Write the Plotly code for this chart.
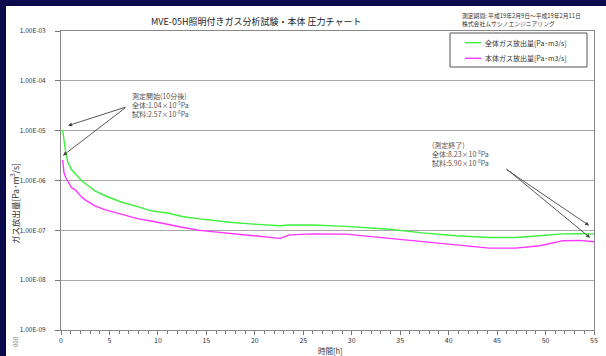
import plotly.graph_objects as go

# ---- data ----
time_h = [0.17, 0.31, 0.49, 0.72, 1.07, 1.5, 2.1, 2.5, 3.0, 3.5, 4.5, 6.2, 8.0, 9.3, 11.0,
          12.5, 14.3, 17.4, 19.5, 21.6, 22.6, 23.6, 26.0, 29.4, 33.9, 37.3, 40.8, 44.2,
          46.9, 49.4, 51.8, 53.5, 55.0]
total_gas = [1.04e-5, 6.6e-6, 3.6e-6, 2.3e-6, 1.66e-6, 1.35e-6, 1.0e-6, 8.7e-7, 7.4e-7, 6.2e-7,
             5.0e-7, 3.7e-7, 2.95e-7, 2.46e-7, 2.23e-7, 1.9e-7, 1.7e-7, 1.45e-7, 1.35e-7,
             1.29e-7, 1.24e-7, 1.28e-7, 1.28e-7, 1.2e-7, 1.05e-7, 8.9e-8, 7.8e-8, 7.2e-8,
             7.2e-8, 7.8e-8, 8.5e-8, 8.6e-8, 8.4e-8]
body_gas = [2.57e-6, 1.43e-6, 1.15e-6, 9.4e-7, 7.2e-7, 6.4e-7, 4.7e-7, 4.1e-7, 3.6e-7, 3.1e-7,
            2.6e-7, 2.1e-7, 1.7e-7, 1.54e-7, 1.3e-7, 1.15e-7, 1.0e-7, 8.8e-8, 8.1e-8,
            7.4e-8, 6.9e-8, 8.1e-8, 8.5e-8, 8.4e-8, 6.9e-8, 6.0e-8, 5.0e-8, 4.4e-8,
            4.4e-8, 4.9e-8, 6.2e-8, 6.3e-8, 5.9e-8]

series_names = ["全体ガス放出量[Pa･m3/s]", "本体ガス放出量[Pa･m3/s]"]
series_colors = ["#3cf23c", "#ff33ff"]
y_tick_vals = [1e-9, 1e-8, 1e-7, 1e-6, 1e-5, 1e-4, 1e-3]
y_tick_text = ["1.00E-09", "1.00E-08", "1.00E-07", "1.00E-06", "1.00E-05", "1.00E-04", "1.00E-03"]
x_tick_vals = [0, 5, 10, 15, 20, 25, 30, 35, 40, 45, 50, 55]

title_text = "MVE-05H照明付きガス分析試験・本体 圧力チャート"
period_text = "測定期間: 平成19年2月9日～平成19年2月11日<br>株式会社ムサシノエンジニアリング"
start_text = "測定開始(10分後)<br>全体:1.04×10<sup>-5</sup>Pa<br>試料:2.57×10<sup>-6</sup>Pa"
end_text = "(測定終了)<br>全体:8.23×10<sup>-8</sup>Pa<br>試料:5.90×10<sup>-8</sup>Pa"
y_title = "ガス放出量[Pa･m<sup>3</sup>/s]"
x_title = "時間[h]"

# ---- layout geometry ----
W, H = 606, 356
ML, MR, MT, MB = 61, 12, 31, 26
PW, PH = W - ML - MR, H - MT - MB


def px(x):
    return (x - ML) / PW


def py(y):
    return (H - MB - y) / PH


FONT = "Noto Sans CJK JP, Liberation Sans, sans-serif"
TXT = "#333333"
NAVY = "#0a0a4c"

fig = go.Figure()
for name, vals, col in zip(series_names, [total_gas, body_gas], series_colors):
    fig.add_trace(go.Scatter(x=time_h, y=vals, mode="lines", name=name,
                             line=dict(color=col, width=1.4)))

fig.update_layout(
    width=W, height=H,
    margin=dict(l=ML, r=MR, t=MT, b=MB, pad=0, autoexpand=False),
    paper_bgcolor="white", plot_bgcolor="white",
    font=dict(family=FONT, size=7, color=TXT),
    showlegend=False,
    xaxis=dict(range=[0, 55], tickvals=x_tick_vals, ticks="outside", ticklen=4,
               tickcolor="#777777", showline=True, linecolor="#888888", linewidth=1,
               mirror=True, showgrid=False, zeroline=False, automargin=False,
               tickfont=dict(size=7, color=TXT),
               minor=dict(dtick=1, ticks="outside", ticklen=3, tickcolor="#777777")),
    yaxis=dict(type="log", range=[-9, -3], tickvals=y_tick_vals, ticktext=y_tick_text,
               ticks="outside", ticklen=5, tickcolor="#777777", showline=True,
               linecolor="#888888", linewidth=1, mirror=True, showgrid=True,
               gridcolor="#a8a8a8", gridwidth=1, zeroline=False, automargin=False,
               tickfont=dict(size=6.5, color=TXT), ticklabelstandoff=8),
)

# navy border on top and left
fig.add_shape(type="rect", xref="paper", yref="paper", x0=px(0), x1=px(6), y0=py(H), y1=py(0),
              fillcolor=NAVY, line=dict(width=0), layer="above")
fig.add_shape(type="rect", xref="paper", yref="paper", x0=px(0), x1=px(W), y0=py(6), y1=py(0),
              fillcolor=NAVY, line=dict(width=0), layer="above")

ann = []
# legend box drawn by hand (compact like the reference)
fig.add_shape(type="rect", xref="paper", yref="paper", x0=px(450), x1=px(587),
              y0=py(67), y1=py(33), fillcolor="white", line=dict(color="#555555", width=1),
              layer="above")
for i, (name, col) in enumerate(zip(series_names, series_colors)):
    yy = 42.7 + i * 15.6
    fig.add_shape(type="line", xref="paper", yref="paper", x0=px(465), x1=px(481),
                  y0=py(yy), y1=py(yy), line=dict(color=col, width=1.4), layer="above")
    ann.append(dict(text=name, xref="paper", yref="paper", x=px(483), y=py(yy),
                    xanchor="left", yanchor="middle", showarrow=False,
                    font=dict(size=7, color=TXT)))

ann.append(dict(text=title_text, xref="paper", yref="paper", x=px(256), y=py(21.5),
                xanchor="center", yanchor="middle",
                showarrow=False, font=dict(size=9, color="#222222")))
ann.append(dict(text=period_text, xref="paper", yref="paper", x=px(460), y=py(19.5),
                xanchor="left", yanchor="middle", align="left", showarrow=False,
                font=dict(size=5.8, color=TXT)))
ann.append(dict(text=start_text, xref="paper", yref="paper", x=px(130), y=py(105.5),
                xanchor="left", yanchor="middle", align="left", showarrow=False,
                font=dict(size=7, color="#555555")))
ann.append(dict(text=end_text, xref="paper", yref="paper", x=px(430), y=py(154),
                xanchor="left", yanchor="middle", align="left", showarrow=False,
                font=dict(size=7, color="#555555")))
ann.append(dict(text=y_title, xref="paper", yref="paper", x=px(14), y=py(204),
                xanchor="center", yanchor="middle",
                textangle=-90, showarrow=False, font=dict(size=8.5, color=TXT)))
ann.append(dict(text=x_title, xref="paper", yref="paper", x=px(330), y=py(350),
                xanchor="center", yanchor="middle",
                showarrow=False, font=dict(size=7.5, color=TXT)))
ann.append(dict(text="000", xref="paper", yref="paper", x=px(15), y=py(342),
                xanchor="center", yanchor="middle",
                textangle=-90, showarrow=False, font=dict(size=6, color="#777777")))

# arrows (heads in data coords, tails as pixel offsets)
arrow_style = dict(text="", showarrow=True, arrowhead=2, arrowsize=0.9, arrowwidth=0.9,
                   arrowcolor="#444444", xref="x", yref="y")
ann.append(dict(x=0.72, y=-4.9, ax=59, ay=-19, **arrow_style))
ann.append(dict(x=0.2, y=-5.5, ax=64, ay=-49, **arrow_style))
ann.append(dict(x=54.5, y=-6.905, ax=-84, ay=-57, **arrow_style))
ann.append(dict(x=54.6, y=-7.15, ax=-85, ay=-70, **arrow_style))

fig.update_layout(annotations=ann)

fig.write_html("out.html", config={"displayModeBar": False},
               post_script="document.body.style.margin='0px';document.body.style.overflow='hidden';")
